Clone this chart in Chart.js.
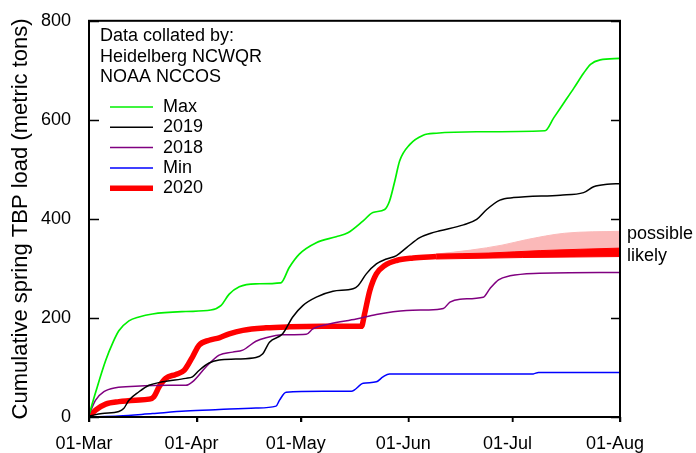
<!DOCTYPE html>
<html>
<head>
<meta charset="utf-8">
<script src="https://cdn.jsdelivr.net/npm/chart.js@4.4.1/dist/chart.umd.min.js"></script>
<style>
  html, body { margin: 0; padding: 0; background: #fff; }
  canvas { display: block; }
</style>
</head>
<body>
<canvas id="load-chart" width="696" height="453"></canvas>
<script>
// days since 01-Mar, cumulative load in metric tons
const xTickDays = [0, 31, 61, 92, 122, 153];
const xTickLabels = ["01-Mar", "01-Apr", "01-May", "01-Jun", "01-Jul", "01-Aug"];
const creditLines = ["Data collated by:", "Heidelberg NCWQR", "NOAA NCCOS"];

const maxLoad = [[0,4],[2,52],[4.8,114],[7,152],[8.6,174],[11.5,194],[14.4,202],[18.3,208],[27.9,213],[35.1,216],[38,225],[40.4,248],[43.3,263],[48,269],[55.3,271],[57.7,302],[60.6,329],[65.5,352],[71.2,364],[74.6,372],[79,396],[81.8,413],[85.2,419],[86.6,436],[88.1,476],[89.5,517],[92.4,550],[96.3,569],[100.1,573],[111.7,576],[131.4,578],[133.9,604],[136.8,634],[139.7,664],[142.5,694],[144.5,712],[147.3,721],[153,724]];

const load2019 = [[0,2],[3.8,7],[8.6,11],[10,17],[11.5,34],[14.4,51],[17.3,64],[21.2,71],[27.9,78],[29.8,81],[31.7,94],[34.6,109],[37.5,115],[42.3,117],[48.1,120],[50,127],[52,151],[55.8,168],[58.7,202],[61.6,225],[65.5,242],[70.3,254],[76.1,259],[77.5,265],[79.9,289],[82.8,309],[85.7,319],[88.6,326],[91.5,342],[95.3,362],[98.5,371],[101.1,376],[107.9,388],[111.7,399],[114.6,419],[118.4,438],[122.3,443],[135.8,448],[142.5,453],[145.4,465],[149.3,470],[153,471]];

const load2018 = [[0,4],[1.9,34],[4.3,51],[7.7,59],[13.4,62],[23.1,64],[27.9,64],[29.8,71],[33.7,101],[37.5,125],[41.4,131],[44.3,135],[48.1,153],[51,160],[55.8,166],[62.6,167],[64.5,178],[69.3,188],[77,198],[82.8,207],[91.5,215],[97.3,216],[102.1,219],[104,232],[106.9,238],[113.6,242],[115.5,259],[118,277],[121.3,285],[128.1,290],[153,292]];

const minLoad = [[0,0],[8.6,2],[18.3,7],[27.9,12],[37.5,15],[48.1,18],[53.9,22],[54.9,34],[56.8,50],[67.4,52],[75.6,52],[79,68],[82.8,71],[84.7,81],[86.6,87],[128,87],[129.5,90],[153,90]];

const load2020 = [[0,0],[1.9,14],[4.8,26],[8.6,31],[13.4,34],[17.3,36],[18.7,41],[20.2,61],[22.1,78],[25,86],[27.4,94],[29.8,121],[31.7,145],[34.6,155],[37.5,160],[40.4,168],[44.3,175],[51,180],[57.7,182],[67.4,183],[78.5,183],[79.4,208],[80.9,255],[82.8,289],[85.2,306],[88.6,316],[93.4,321],[100,324]];

// projections for the rest of the season
const likelyLow = [[100,319],[125,322],[153,324]];
const likelyHigh = [[100,329],[115,331],[130,336],[153,341]];
const possibleHigh = [[100,329],[110,337],[119,347],[126,358],[137,371],[153,375]];

const FONT = "'Liberation Sans', Arial, sans-serif";
const pts = (arr) => arr.map(([x, y]) => ({ x, y }));

function line(label, data, color, width, order) {
  return {
    label, data: pts(data), borderColor: color, borderWidth: width,
    pointRadius: 0, cubicInterpolationMode: "monotone", fill: false, order,
  };
}

// frame round the plot, inward y ticks both sides, outward x ticks
const framePlugin = {
  id: "frame",
  afterDatasetsDraw(chart) {
    const { ctx, chartArea: a, scales } = chart;
    ctx.save();
    ctx.strokeStyle = "#000";
    ctx.lineWidth = 2;
    ctx.strokeRect(a.left, a.top, a.right - a.left, a.bottom - a.top);
    ctx.lineWidth = 1.5;
    ctx.beginPath();
    scales.y.ticks.forEach((t) => {
      const py = Math.round(scales.y.getPixelForValue(t.value)) + 0.5;
      ctx.moveTo(a.left, py); ctx.lineTo(a.left + 10, py);
      ctx.moveTo(a.right - 9, py); ctx.lineTo(a.right, py);
    });
    scales.x.ticks.forEach((t) => {
      const px = Math.round(scales.x.getPixelForValue(t.value)) + 0.5;
      ctx.moveTo(px, a.bottom); ctx.lineTo(px, a.bottom + 5);
    });
    ctx.stroke();
    ctx.restore();
  },
};

// legend and notes drawn inside/next to the plot
const notesPlugin = {
  id: "notes",
  afterDraw(chart) {
    const { ctx, chartArea: a, scales } = chart;
    ctx.save();
    ctx.font = "18px " + FONT;
    ctx.fillStyle = "#000";
    ctx.textBaseline = "middle";
    ctx.textAlign = "left";
    creditLines.forEach((txt, i) => ctx.fillText(txt, 100, 36 + i * 20.7));

    const items = chart.data.datasets.slice(0, 5);
    items.forEach((ds, i) => {
      const yy = 107 + i * 20.3;
      ctx.strokeStyle = ds.borderColor;
      ctx.lineWidth = ds.borderWidth;
      ctx.beginPath();
      ctx.moveTo(110, yy); ctx.lineTo(153, yy);
      ctx.stroke();
      ctx.fillText(ds.label, 163, yy);
    });

    ctx.fillText("possible", a.right + 7, scales.y.getPixelForValue(370));
    ctx.fillText("likely", a.right + 7, scales.y.getPixelForValue(326));
    ctx.restore();
  },
};

new Chart(document.getElementById("load-chart"), {
  type: "line",
  data: {
    datasets: [
      line("Max", maxLoad, "#00f000", 1.7, 1),
      line("2019", load2019, "#000000", 1.5, 1),
      line("2018", load2018, "#800080", 1.5, 1),
      line("Min", minLoad, "#0000ff", 1.5, 1),
      line("2020", load2020, "#ff0000", 5.5, 5),
      { ...line("likely low", likelyLow, "#ff0000", 1, 6) },
      { ...line("likely high", likelyHigh, "#ff0000", 1, 7), fill: { target: 5 }, backgroundColor: "#ff0000" },
      { ...line("possible", possibleHigh, "#fbb9b9", 1, 8), fill: { target: 6 }, backgroundColor: "#fbb9b9" },
    ],
  },
  options: {
    responsive: false,
    animation: false,
    layout: { padding: { left: 0, top: 18, right: 76, bottom: 0 } },
    plugins: { legend: { display: false }, tooltip: { enabled: false } },
    scales: {
      x: {
        type: "linear",
        min: 0,
        max: 153,
        afterFit: (s) => { s.height = 36; },
        afterBuildTicks: (s) => { s.ticks = xTickDays.map((v) => ({ value: v })); },
        border: { display: false },
        grid: { drawOnChartArea: false, drawTicks: true, tickLength: 5, color: "#000", lineWidth: 1.5 },
        ticks: {
          autoSkip: false,
          maxRotation: 0,
          padding: 11,
          labelOffset: -5,
          color: "#000",
          font: { family: FONT, size: 18 },
          callback: (v) => xTickLabels[xTickDays.indexOf(v)] ?? "",
        },
      },
      y: {
        min: 0,
        max: 800,
        afterFit: (s) => { s.width = 89; },
        border: { display: false },
        grid: { display: false },
        ticks: { stepSize: 200, padding: 10, color: "#000", font: { family: FONT, size: 18 } },
        title: {
          display: true,
          text: "Cumulative spring TBP load (metric tons)",
          color: "#000",
          font: { family: FONT, size: 22 },
          padding: { top: 8, bottom: 0 },
        },
      },
    },
  },
  plugins: [framePlugin, notesPlugin],
});
</script>
</body>
</html>
